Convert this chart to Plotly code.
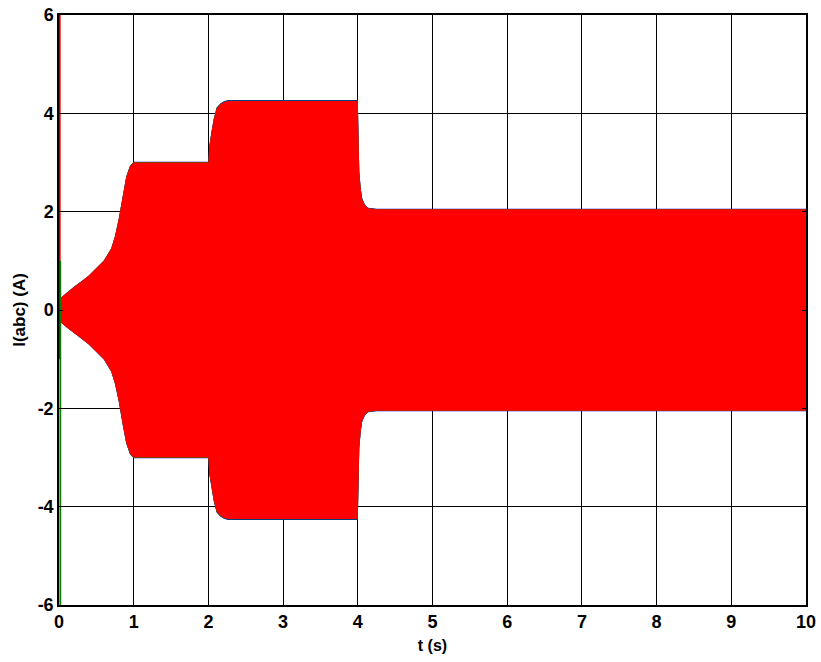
import plotly.graph_objects as go

# Envelope of the three-phase currents (peak amplitude, A) versus time (s)
env_t = [0.0, 0.1, 0.2, 0.3, 0.4, 0.5, 0.6, 0.7, 0.75, 0.8, 0.85, 0.9, 0.95, 1.0,
         2.0, 2.01, 2.04, 2.07, 2.11, 2.16, 2.2, 2.26, 4.0, 4.01, 4.02, 4.04, 4.06,
         4.1, 4.14, 4.25, 10.0]
env_a = [0.22, 0.35, 0.47, 0.58, 0.7, 0.85, 1.0, 1.25, 1.5, 1.85, 2.3, 2.7, 2.92, 3.0,
         3.0, 3.3, 3.6, 3.86, 4.1, 4.18, 4.22, 4.25, 4.25, 3.3, 2.8, 2.45, 2.25,
         2.12, 2.07, 2.05, 2.05]

# Start-up transient spikes (time, min, max) per phase
spike_t = [0.006, 0.014, 0.022]
spike_lo = [-1.0, -8.0, -8.0]
spike_hi = [8.0, 8.0, 1.0]
phase_colors = ["#0000FF", "#FF0000", "#008000"]

x_ticks = list(range(0, 11))
y_ticks = [-6, -4, -2, 0, 2, 4, 6]

fig = go.Figure()


def envelope_polygon(scale):
    xs = env_t + env_t[::-1]
    ys = [a * scale for a in env_a] + [-a * scale for a in env_a[::-1]]
    return xs, ys


# Phases a (blue) and b (green) peek out at the edges; phase c (red) on top
for scale, color in [(1.005, "#0000FF"), (1.003, "#008000"), (1.0, "#FF0000")]:
    xs, ys = envelope_polygon(scale)
    fig.add_trace(go.Scatter(x=xs, y=ys, mode="lines", fill="toself",
                             fillcolor=color, line=dict(color=color, width=0),
                             hoverinfo="skip", showlegend=False))

for t, lo, hi, color in zip(spike_t, spike_lo, spike_hi, phase_colors):
    fig.add_trace(go.Scatter(x=[t, t], y=[lo, hi], mode="lines",
                             line=dict(color=color, width=1.2),
                             hoverinfo="skip", showlegend=False))

tick_font = dict(family="Liberation Sans, Arial", size=18, color="black")
common = dict(showgrid=True, gridcolor="black", gridwidth=1, zeroline=False,
              showline=True, linecolor="black", linewidth=1.5, mirror="ticks",
              ticks="inside", ticklen=4, tickcolor="black",
              tickfont=tick_font)

fig.update_xaxes(range=[0, 10], tickvals=x_ticks,
                 ticktext=[f"<b>{v}</b>" for v in x_ticks],
                 title=dict(text="<b>t (s)</b>",
                            font=dict(family="Liberation Sans, Arial", size=16,
                                      color="black"), standoff=8),
                 **common)
fig.update_yaxes(range=[-6, 6], tickvals=y_ticks,
                 ticktext=[f"<b>{v}</b>" for v in y_ticks],
                 title=dict(text="<b>I(abc) (A)</b>",
                            font=dict(family="Liberation Sans, Arial", size=17,
                                      color="black"), standoff=8),
                 **common)

fig.update_layout(width=821, height=662,
                  margin=dict(l=59, r=15, t=15, b=57, autoexpand=False),
                  plot_bgcolor="white", paper_bgcolor="white")

fig.write_html("out.html")
